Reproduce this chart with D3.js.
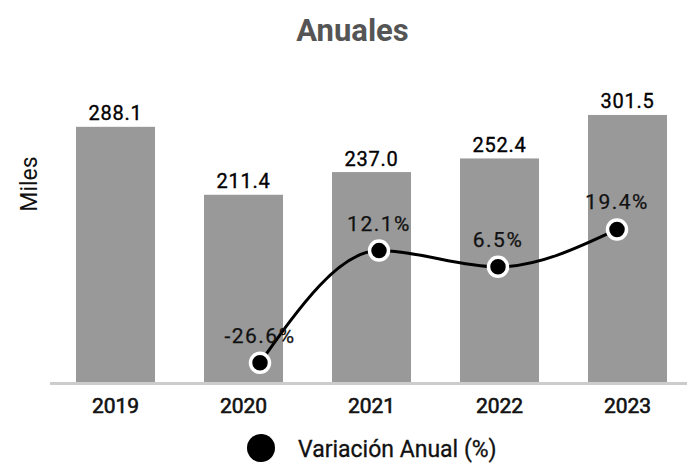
<!DOCTYPE html>
<html>
<head>
<meta charset="utf-8">
<script src="https://cdn.jsdelivr.net/npm/d3@7"></script>
<style>
  body { margin: 0; background: #fff; }
  text { font-family: Roboto, "Noto Sans", sans-serif; }
</style>
</head>
<body>
<div class="chart"></div>
<script>
// data
const years = ['2019', '2020', '2021', '2022', '2023'];
const miles = [288.1, 211.4, 237.0, 252.4, 301.5];
const variacion = [null, -26.6, 12.1, 6.5, 19.4];

const width = 687;
const height = 468;

const svg = d3.select('.chart')
    .append('svg')
    .attr('width', width)
    .attr('height', height);

// scales
const x = d3.scaleBand()
    .domain(years)
    .range([51.5, 691.5])
    .paddingInner(0.383)
    .paddingOuter(0.1915);

const y = d3.scaleLinear()
    .domain([0, 350])
    .range([382, 72]);

// the line sits on its own point scale, a little narrower than the bars
const xLine = d3.scalePoint()
    .domain(years)
    .range([141, 617]);

const yLine = d3.scaleLinear()
    .domain([-30, 30])
    .range([372.7, 198.7]);

const bars = years.map((d, i) => ({ year: d, value: miles[i] }));
const points = years.map((d, i) => ({ year: d, value: variacion[i] }))
    .filter(d => d.value !== null);

// title
svg.append('text')
    .text('Anuales')
    .attr('x', 352.5)
    .attr('y', 41)
    .attr('text-anchor', 'middle')
    .attr('fill', '#555')
    .style('font-size', '31px')
    .style('font-weight', 'bold');

// y axis title
svg.append('text')
    .text('Miles')
    .attr('transform', 'translate(37,184) rotate(-90)')
    .attr('text-anchor', 'middle')
    .attr('fill', '#111')
    .style('font-size', '23px');

// bars
svg.append('g')
    .selectAll('rect')
    .data(bars)
    .enter()
    .append('rect')
    .attr('x', d => x(d.year))
    .attr('y', d => y(d.value))
    .attr('width', x.bandwidth())
    .attr('height', d => y(0) - y(d.value))
    .attr('fill', '#999999');

// bar labels
svg.append('g')
    .selectAll('text')
    .data(bars)
    .enter()
    .append('text')
    .text(d => d.value.toFixed(1))
    .attr('x', d => x(d.year) + x.bandwidth() / 2)
    .attr('y', d => y(d.value) - 6.5)
    .attr('text-anchor', 'middle')
    .attr('fill', '#000')
    .attr('stroke', '#000')
    .attr('stroke-width', 0.35)
    .style('font-size', '20px')
    .style('letter-spacing', '0.8px');

// base line
svg.append('line')
    .attr('x1', 50)
    .attr('x2', width)
    .attr('y1', y(0) + 1.5)
    .attr('y2', y(0) + 1.5)
    .attr('stroke', '#cccccc')
    .attr('stroke-width', 3);

// x axis labels
const xAxis = svg.append('g')
    .attr('transform', `translate(0,${y(0)})`)
    .call(d3.axisBottom(x).tickSize(0).tickPadding(0));
xAxis.select('.domain').remove();
xAxis.selectAll('text')
    .attr('dy', 0)
    .attr('y', 31)
    .attr('fill', '#111')
    .attr('stroke', '#111')
    .attr('stroke-width', 0.6)
    .style('font-size', '21px')
    .style('font-weight', 400)
    .style('font-family', 'Roboto, sans-serif');

// variation line
const line = d3.line()
    .x(d => xLine(d.year))
    .y(d => yLine(d.value))
    .curve(d3.curveMonotoneX);

svg.append('path')
    .datum(points)
    .attr('d', line)
    .attr('fill', 'none')
    .attr('stroke', '#000')
    .attr('stroke-width', 3);

// dots
svg.append('g')
    .selectAll('circle')
    .data(points)
    .enter()
    .append('circle')
    .attr('cx', d => xLine(d.year))
    .attr('cy', d => yLine(d.value))
    .attr('r', 9.5)
    .attr('fill', '#000')
    .attr('stroke', '#fff')
    .attr('stroke-width', 3.5);

// percent labels
svg.append('g')
    .selectAll('text')
    .data(points)
    .enter()
    .append('text')
    .text(d => `${d.value.toFixed(1)}%`)
    .attr('x', d => xLine(d.year))
    .attr('y', d => yLine(d.value) - 20)
    .attr('text-anchor', 'middle')
    .attr('fill', '#111')
    .attr('stroke', '#111')
    .attr('stroke-width', 0.25)
    .style('font-size', '21px')
    .style('letter-spacing', '1.5px');

// legend
svg.append('circle')
    .attr('cx', 261)
    .attr('cy', 448)
    .attr('r', 14)
    .attr('fill', '#000');

svg.append('text')
    .text('Variación Anual (%)')
    .attr('x', 298)
    .attr('y', 456.5)
    .attr('fill', '#111')
    .attr('stroke', '#111')
    .attr('stroke-width', 0.3)
    .style('font-size', '23px');
</script>
</body>
</html>
